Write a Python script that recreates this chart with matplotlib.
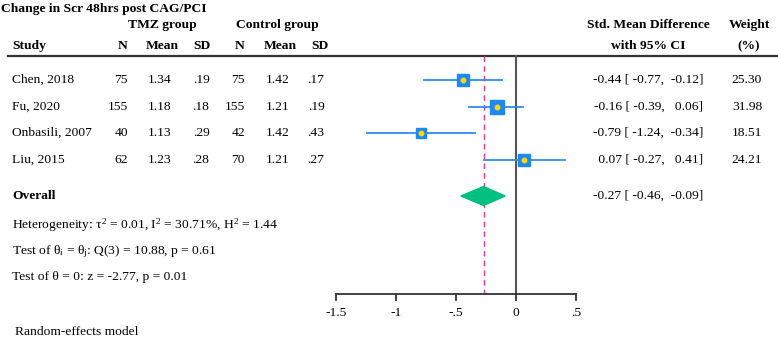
import numpy as np
import matplotlib
matplotlib.use("Agg")
import matplotlib.pyplot as plt
from matplotlib.patches import Polygon

plt.rcParams['font.family'] = ['Liberation Serif', 'DejaVu Serif']
plt.rcParams['mathtext.fontset'] = 'custom'
plt.rcParams['mathtext.rm'] = 'Liberation Serif'
plt.rcParams['mathtext.it'] = 'Liberation Serif:italic'

# Data
studies = ["Chen, 2018", "Fu, 2020", "Onbasili, 2007", "Liu, 2015"]
tmz_n = [75, 155, 40, 62]
tmz_mean = ["1.34", "1.18", "1.13", "1.23"]
tmz_sd = [".19", ".18", ".29", ".28"]
ctl_n = [75, 155, 42, 70]
ctl_mean = ["1.42", "1.21", "1.42", "1.21"]
ctl_sd = [".17", ".19", ".43", ".27"]
smd = [-0.44, -0.16, -0.79, 0.07]
ci_lo = [-0.77, -0.39, -1.24, -0.27]
ci_hi = [-0.12, 0.06, -0.34, 0.41]
weights = [25.30, 31.98, 18.51, 24.21]
overall = (-0.27, -0.46, -0.09)
xticks = [-1.5, -1, -0.5, 0, 0.5]
xticklabels = ["-1.5", "-1", "-.5", "0", ".5"]

# Layout (pixel rows, figure is 778x341)
W, H = 778, 341
row_y = [80, 107, 133, 160]
overall_y = 196
axis_y = 294
line_top = 56
fs = 9.7

fig = plt.figure(figsize=(W / 100, H / 100), dpi=100)
ax = fig.add_axes([0, 0, 1, 1])
# x: data units, 0 at pixel 516, 120 px per unit; y: pixels from top
ax.set_xlim(-516 / 120, (W - 516) / 120)
ax.set_ylim(H, 0)
ax.axis('off')

def px(xp):
    # pixel x -> data x (for text columns)
    return (xp - 516) / 120

def ci_text(es, lo, hi):
    return f"{es:5.2f} [{lo:6.2f}, {hi:6.2f}]"

# title and headers
ax.text(px(1), 9, "Change in Scr 48hrs post CAG/PCI", fontsize=fs, fontweight='bold', va='center')
ax.text(px(162), 25, "TMZ group", fontsize=fs, fontweight='bold', ha='center', va='center')
ax.text(px(277), 25, "Control group", fontsize=fs, fontweight='bold', ha='center', va='center')
ax.text(px(648), 25, "Std. Mean Difference", fontsize=fs, fontweight='bold', ha='center', va='center')
ax.text(px(749), 25, "Weight", fontsize=fs, fontweight='bold', ha='center', va='center')
hy = 46
ax.text(px(12), hy, "Study", fontsize=fs, fontweight='bold', va='center')
ax.text(px(128), hy, "N", fontsize=fs, fontweight='bold', ha='right', va='center')
ax.text(px(162), hy, "Mean", fontsize=fs, fontweight='bold', ha='center', va='center')
ax.text(px(202), hy, "SD", fontsize=fs, fontweight='bold', ha='center', va='center')
ax.text(px(245), hy, "N", fontsize=fs, fontweight='bold', ha='right', va='center')
ax.text(px(280), hy, "Mean", fontsize=fs, fontweight='bold', ha='center', va='center')
ax.text(px(320), hy, "SD", fontsize=fs, fontweight='bold', ha='center', va='center')
ax.text(px(648), hy, "with 95% CI", fontsize=fs, fontweight='bold', ha='center', va='center')
ax.text(px(749), hy, "(%)", fontsize=fs, fontweight='bold', ha='center', va='center')

ax.plot([px(8), px(W)], [line_top, line_top], color='#333333', lw=1.6)

# reference lines
ax.plot([0, 0], [line_top, axis_y], color='#555555', lw=1.5)
ax.plot([overall[0], overall[0]], [line_top, axis_y], color='#e8388a', lw=1.0, dashes=(4, 3))

# study rows
for i in range(len(studies)):
    y = row_y[i]
    ax.text(px(12), y, studies[i], fontsize=fs, va='center')
    ax.text(px(128), y, str(tmz_n[i]), fontsize=fs, ha='right', va='center')
    ax.text(px(160), y, tmz_mean[i], fontsize=fs, ha='center', va='center')
    ax.text(px(201), y, tmz_sd[i], fontsize=fs, ha='center', va='center')
    ax.text(px(245), y, str(ctl_n[i]), fontsize=fs, ha='right', va='center')
    ax.text(px(278), y, ctl_mean[i], fontsize=fs, ha='center', va='center')
    ax.text(px(316), y, ctl_sd[i], fontsize=fs, ha='center', va='center')

    ax.plot([ci_lo[i], ci_hi[i]], [y, y], color='#2b8cf0', lw=1.3, zorder=3)
    side = 2.4 * np.sqrt(weights[i])
    ax.plot(smd[i], y, marker='s', ms=side * 0.72, color='#1e88f0', mec='#1e88f0', zorder=4)
    ax.plot(smd[i], y, marker='o', ms=3.2, color='#ffd700', mec='#ffd700', zorder=5)

    ax.text(px(703), y, ci_text(smd[i], ci_lo[i], ci_hi[i]), fontsize=fs, ha='right', va='center')
    ax.text(px(747), y, f"{weights[i]:.2f}", fontsize=fs, ha='center', va='center')

# overall
es, lo, hi = overall
ax.text(px(12), overall_y, "Overall", fontsize=fs, fontweight='bold', va='center')
diamond = Polygon([(lo, overall_y), (es, overall_y - 9.5), (hi, overall_y), (es, overall_y + 9.5)],
                  closed=True, facecolor='#00bf7f', edgecolor='#00bf7f', zorder=4)
ax.add_patch(diamond)
ax.text(px(703), overall_y, ci_text(es, lo, hi), fontsize=fs, ha='right', va='center')

ax.text(px(12), 225, r"Heterogeneity: $\mathrm{\tau}^{2}$ = 0.01, I$^{2}$ = 30.71%, H$^{2}$ = 1.44",
        fontsize=fs, va='center')
ax.text(px(12), 252, r"Test of θ$_\mathrm{i}$ = θ$_\mathrm{j}$: Q(3) = 10.88, p = 0.61", fontsize=fs, va='center')
ax.text(px(12), 277, "Test of θ = 0: z = -2.77, p = 0.01", fontsize=fs, va='center')

# bottom axis
ax.plot([xticks[0], xticks[-1]], [axis_y, axis_y], color='#333333', lw=1.3)
for t, lab in zip(xticks, xticklabels):
    ax.plot([t, t], [axis_y, axis_y + 6], color='#333333', lw=1.3)
    ax.text(t, 313, lab, fontsize=fs, ha='center', va='center')

ax.text(px(15), 332, "Random-effects model", fontsize=fs, va='center')

fig.savefig("out.png", dpi=100)
